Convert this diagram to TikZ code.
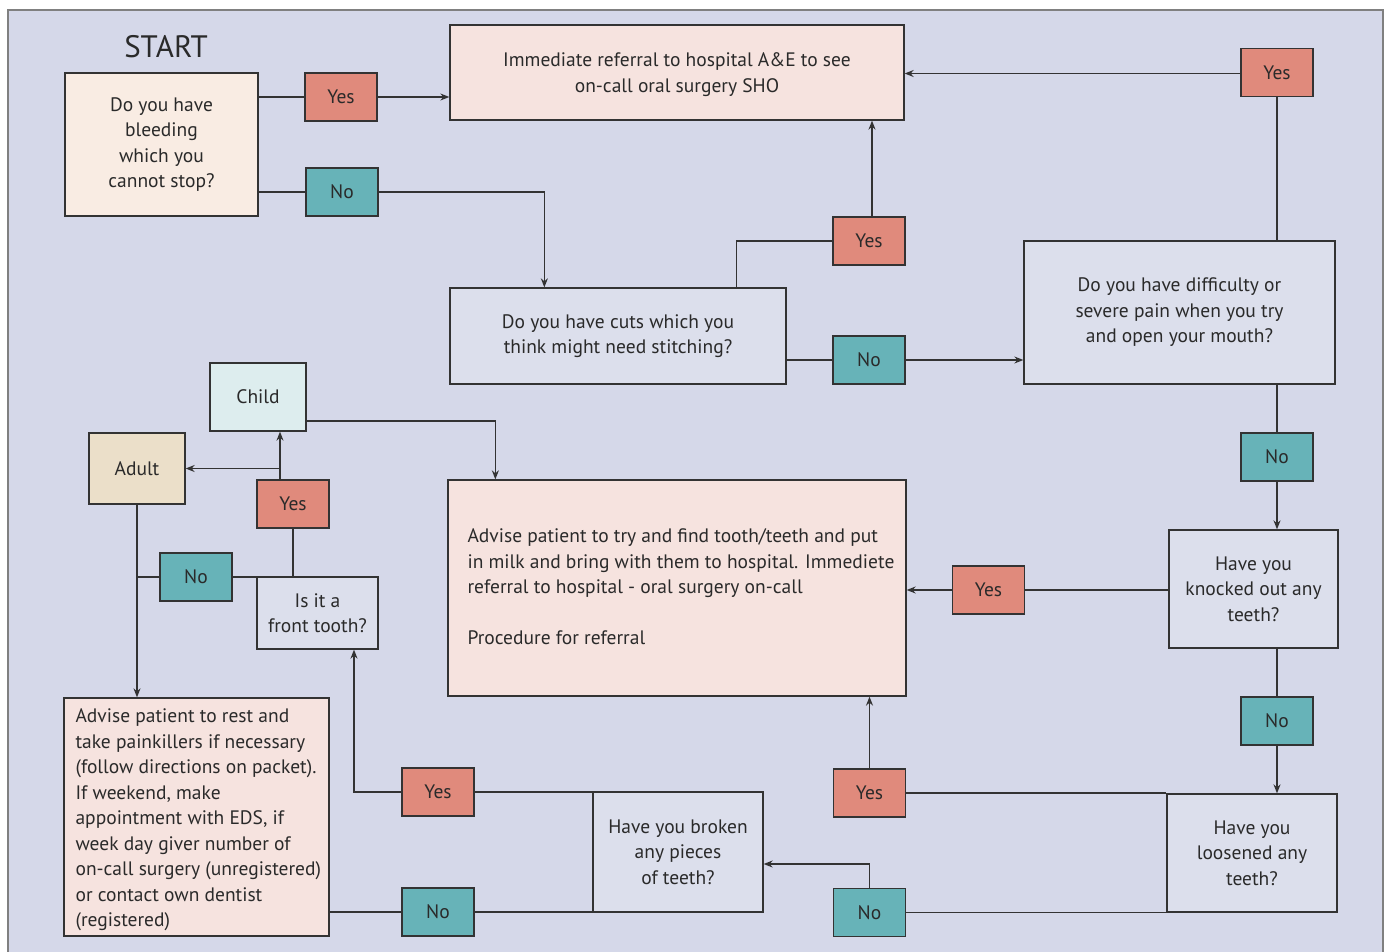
\documentclass[tikz,border=0pt]{standalone}
\usepackage{fontspec}
\setmainfont{PT Sans}
\usetikzlibrary{arrows.meta,calc}
\definecolor{panel}{HTML}{D5D8E9}
\definecolor{panelline}{HTML}{808080}
\definecolor{qcol}{HTML}{DCDFEC}
\definecolor{yescol}{HTML}{E08A7C}
\definecolor{nocol}{HTML}{67B3B8}
\definecolor{pinkcol}{HTML}{F6E3DF}
\definecolor{peachcol}{HTML}{F9ECE3}
\definecolor{adultcol}{HTML}{EBDFC9}
\definecolor{childcol}{HTML}{DDEDEE}
\definecolor{linecol}{HTML}{333333}
\definecolor{txtcol}{HTML}{2A2A2A}
\begin{document}
\begin{tikzpicture}[x=1pt,y=-1pt,
  box/.style={draw=linecol, line width=1.3pt, inner sep=2pt, text=txtcol,
    font=\fontsize{19.5pt}{25.5pt}\selectfont, align=center},
  qbox/.style={box, fill=qcol},
  yesbox/.style={box, fill=yescol, minimum width=72pt, minimum height=48pt},
  nobox/.style={box, fill=nocol, minimum width=72pt, minimum height=48pt},
  bodytext/.style={text=txtcol, font=\fontsize{19.5pt}{25.5pt}\selectfont, align=left, inner sep=0pt, anchor=west},
  conn/.style={draw=linecol, line width=1.4pt},
  arr/.style={conn, -{Stealth[length=9pt,width=7pt]}}
]
\useasboundingbox (0,0) rectangle (1387,952);
\fill[white] (0,0) rectangle (1387,952);
\draw[panelline, line width=1.5pt, fill=panel] (8,10) rectangle (1383,975);

% title
\node[text=txtcol, font=\fontsize{31pt}{36pt}\selectfont] (start) at (166,47) {START};

% nodes
\node[box, fill=peachcol, minimum width=193pt, minimum height=143pt] (q1) at (161.5,144.5)
  {Do you have\\bleeding\\which you\\cannot stop?};
\node[yesbox] (y1) at (341,97) {Yes};
\node[nobox] (n1) at (342,192) {No};
\node[box, fill=pinkcol, minimum width=454pt, minimum height=95pt, text depth=0pt] (ae) at (677,72.5)
  {Immediate referral to hospital A\&E to see\\on-call oral surgery SHO};
\node[yesbox] (ytr) at (1277,72.5) {Yes};
\node[qbox, minimum width=336pt, minimum height=96pt] (q2) at (618,336)
  {Do you have cuts which you\\think might need stitching?};
\node[yesbox] (y2) at (869,241) {Yes};
\node[nobox] (n2) at (869,360) {No};
\node[qbox, minimum width=311pt, minimum height=143pt] (q3) at (1179.5,312.5)
  {Do you have difficulty or\\severe pain when you try\\and open your mouth?};
\node[nobox] (n3) at (1277,457) {No};
\node[qbox, minimum width=169pt, minimum height=118pt] (q4) at (1253.5,589)
  {Have you\\knocked out any\\teeth?};
\node[yesbox] (y4) at (988.5,590) {Yes};
\node[box, fill=pinkcol, minimum width=458pt, minimum height=216pt] (adv) at (677,588) {};
\node[bodytext] (advtext) at ([xshift=20pt,yshift=1pt]adv.west)
  {Advise patient to try and find tooth/teeth and put\\in milk and bring with them to hospital. Immediete\\referral to hospital - oral surgery on-call\\[25.5pt]Procedure for referral};
\node[nobox] (n4) at (1277,721) {No};
\node[qbox, minimum width=170pt, minimum height=118pt] (q5) at (1252,853)
  {Have you\\loosened any\\teeth?};
\node[yesbox] (y5) at (869.5,793) {Yes};
\node[nobox] (n5) at (869.5,912.5) {No};
\node[qbox, minimum width=170pt, minimum height=120pt] (q6) at (678,852)
  {Have you broken\\any pieces\\of teeth?};
\node[yesbox] (y6) at (438,792) {Yes};
\node[nobox] (n6) at (438,912) {No};
\node[box, fill=pinkcol, minimum width=265pt, minimum height=238pt] (rest) at (196.5,817) {};
\node[bodytext] (resttext) at ([xshift=12pt,yshift=-3pt]rest.west)
  {Advise patient to rest and\\take painkillers if necessary\\(follow directions on packet).\\If weekend, make\\appointment with EDS, if\\week day giver number of\\on-call surgery (unregistered)\\or contact own dentist\\(registered)};
\node[qbox, minimum width=121pt, minimum height=72pt] (ft) at (317.5,613)
  {Is it a\\front tooth?};
\node[yesbox] (y7) at (293,504) {Yes};
\node[nobox] (n7) at (196,577) {No};
\node[box, fill=adultcol, minimum width=96pt, minimum height=71pt] (adult) at (137,468.5) {Adult};
\node[box, fill=childcol, minimum width=96pt, minimum height=68pt] (child) at (258,397) {Child};

% connectors
\draw[conn] (y1.west -| q1.east) -- (y1.west);
\draw[arr] (y1.east) -- (y1.east -| ae.west);
\draw[conn] (n1.west -| q1.east) -- (n1.west);
\draw[arr] (n1.east) -| ([xshift=95pt]q2.north west);
\draw[conn] ([xshift=287pt]q2.north west) |- (y2.west);
\draw[arr] ([xshift=3pt]y2.north) -- ([xshift=3pt]y2.north |- ae.south);
\draw[conn] (n2.west -| q2.east) -- (n2.west);
\draw[arr] (n2.east) -- (n2.east -| q3.west);
\draw[conn] (ytr.south) -- (ytr.south |- q3.north);
\draw[arr] ([yshift=-1pt]ytr.west) -- ([yshift=-1pt]ytr.west -| ae.east);
\draw[conn] (n3.north |- q3.south) -- (n3.north);
\draw[arr] (n3.south) -- (n3.south |- q4.north);
\draw[conn] (y4.east) -- (y4.east -| q4.west);
\draw[arr] (y4.west) -- (y4.west -| adv.east);
\draw[conn] (n4.north |- q4.south) -- (n4.north);
\draw[arr] (n4.south) -- (n4.south |- q5.north);
\draw[conn] (y5.east) -- (y5.east -| q5.west);
\draw[arr] (y5.north) -- (y5.north |- adv.south);
\draw[conn] (n5.east) -- (n5.east -| q5.west);
\draw[arr] (n5.north) |- ([yshift=-12pt]q6.east);
\draw[conn] (y6.east) -- (y6.east -| q6.west);
\draw[conn] (n6.east) -- (n6.east -| q6.west);
\draw[arr] (y6.west) -| ([xshift=36.5pt]ft.south);
\draw[conn] (n6.west) -- (n6.west -| rest.east);
\draw[conn] (y7.south) -- (y7.south |- ft.north);
\draw[arr] ([xshift=-13pt]y7.north) -- ([xshift=-13pt]y7.north |- child.south);
\draw[arr] ([xshift=-13pt]y7.north |- adult.east) -- (adult.east);
\draw[conn] (n7.east) -- (n7.east -| ft.west);
\draw[conn] (n7.west) -- (n7.west -| adult.south);
\draw[arr] (adult.south) -- (adult.south |- rest.north);
\draw[arr] ([yshift=-24pt]child.east) -| ([xshift=48pt]adv.north west);
\end{tikzpicture}
\end{document}
